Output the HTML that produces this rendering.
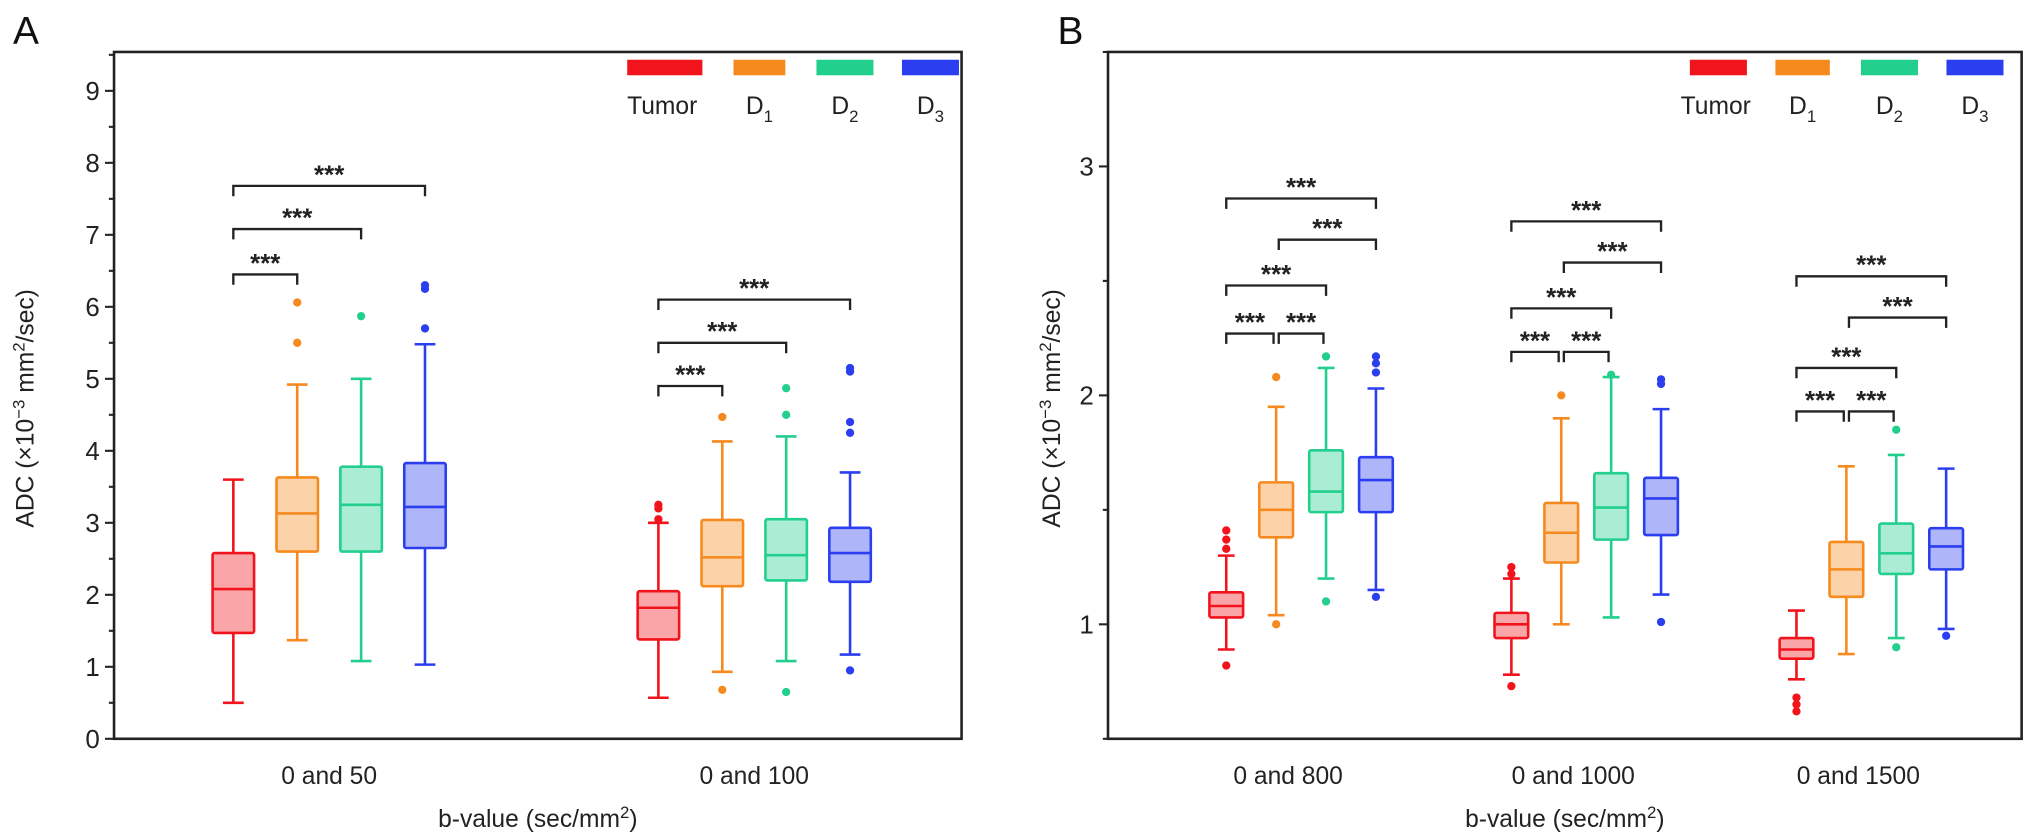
<!DOCTYPE html>
<html><head><meta charset="utf-8">
<style>
html,body{margin:0;padding:0;background:#fff;}
svg{display:block;font-family:"Liberation Sans",Arial,sans-serif;}
</style></head>
<body>
<svg id="fig" width="2032" height="840" viewBox="0 0 1568 648" xmlns="http://www.w3.org/2000/svg"></svg>
<script>
// ===== Panel A data =====
const seriesNames = ["Tumor","D1","D2","D3"];
const colors = ["#f2141c","#f68a1e","#22cf8d","#2b3ff0"];
const catsA = ["0 and 50","0 and 100"];
const ticksA = [0,1,2,3,4,5,6,7,8,9];
// [whiskerLow, q1, median, q3, whiskerHigh]
const statsA50 = [[0.5,1.47,2.08,2.58,3.6],[1.37,2.6,3.13,3.63,4.92],[1.08,2.6,3.25,3.78,5.0],[1.03,2.65,3.22,3.83,5.48]];
const statsA100 = [[0.57,1.38,1.82,2.05,3.0],[0.93,2.12,2.52,3.04,4.13],[1.08,2.2,2.55,3.05,4.2],[1.17,2.18,2.58,2.93,3.7]];
const outA50 = [[],[5.5,6.06],[5.87],[5.7,6.25,6.3]];
const outA100 = [[3.05,3.2,3.25],[0.68,4.47],[0.65,4.5,4.87],[0.95,4.25,4.4,5.1,5.15]];
// brackets: [groupIndex, fromSeries, toSeries, level]
const bracketsA = [[0,0,1,6.45],[0,0,2,7.08],[0,0,3,7.68],[1,0,1,4.9],[1,0,2,5.5],[1,0,3,6.1]];
// ===== Panel B data =====
const catsB = ["0 and 800","0 and 1000","0 and 1500"];
const ticksB = [1,2,3];
const statsB800 = [[0.89,1.03,1.08,1.14,1.3],[1.04,1.38,1.5,1.62,1.95],[1.2,1.49,1.58,1.76,2.12],[1.15,1.49,1.63,1.73,2.03]];
const statsB1000 = [[0.78,0.94,1.0,1.05,1.2],[1.0,1.27,1.4,1.53,1.9],[1.03,1.37,1.51,1.66,2.08],[1.13,1.39,1.55,1.64,1.94]];
const statsB1500 = [[0.76,0.85,0.89,0.94,1.06],[0.87,1.12,1.24,1.36,1.69],[0.94,1.22,1.31,1.44,1.74],[0.98,1.24,1.34,1.42,1.68]];
const outB800 = [[0.82,1.33,1.37,1.41],[1.0,2.08],[1.1,2.17],[1.12,2.1,2.14,2.17]];
const outB1000 = [[0.73,1.22,1.25],[2.0],[2.09],[1.01,2.05,2.07]];
const outB1500 = [[0.62,0.65,0.68],[],[0.9,1.85],[0.95]];
const bracketsB = [[0,0,1,2.27],[0,1,2,2.27],[0,0,2,2.48],[0,1,3,2.68],[0,0,3,2.86],
                   [1,0,1,2.19],[1,1,2,2.19],[1,0,2,2.38],[1,1,3,2.58],[1,0,3,2.76],
                   [2,0,1,1.93],[2,1,2,1.93],[2,0,2,2.12],[2,1,3,2.34],[2,0,3,2.52]];

const NS="http://www.w3.org/2000/svg";
const svg=document.getElementById('fig');
function mk(tag,attrs,parent,text){const e=document.createElementNS(NS,tag);for(const k in attrs)e.setAttribute(k,attrs[k]);if(text!==undefined)e.textContent=text;(parent||svg).appendChild(e);return e;}

function panel(cfg){
  const g=mk('g',{});
  
  
  const {x0,x1,y0,y1,vmin,vmax}=cfg;
  const Y=v=>y1-(v-vmin)/(vmax-vmin)*(y1-y0);
  const gc=i=>cfg.g0+cfg.gw*i;
  const bx=(gi,s)=>gc(gi)+(s-1.5)*cfg.step;
  const fr=mk('rect',{x:x0,y:y0,width:x1-x0,height:y1-y0,fill:'none',stroke:'#222','stroke-width':2},g);
  
  
  for(let v=vmin;v<=vmax+1e-9;v+=0.5){
    const major=cfg.ticks.some(t=>Math.abs(t-v)<1e-9);
    const tk=mk('line',{x1:x0-(major?7:4),x2:x0,y1:Y(v),y2:Y(v),stroke:'#222','stroke-width':1.6},g);
    
    
  }
  cfg.ticks.forEach(t=>{
    const tl=mk('text',{x:x0-11,y:Y(t)+7,'text-anchor':'end','font-size':20,fill:'#222'},g,String(t));
    
    
  });
  const yt=mk('text',{transform:`translate(${cfg.ytx},${(y0+y1)/2+10}) rotate(-90)`,'text-anchor':'middle','font-size':19,fill:'#222'},g);
  
  
  yt.innerHTML='ADC (×10<tspan dy="-7" font-size="13">−3</tspan><tspan dy="7"> mm</tspan><tspan dy="-7" font-size="13">2</tspan><tspan dy="7">/sec)</tspan>';
  cfg.cats.forEach((c,i)=>{
    const t=mk('text',{x:gc(i)+cfg.lshift,y:y1+35,'text-anchor':'middle','font-size':19,fill:'#222'},g,c);
    
    
  });
  const xt=mk('text',{x:(x0+x1)/2,y:y1+68,'text-anchor':'middle','font-size':19,fill:'#222'},g);
  
  
  xt.innerHTML='b-value (sec/mm<tspan dy="-7" font-size="13">2</tspan><tspan dy="7">)</tspan>';
  const bw=cfg.bw;
  cfg.stats.forEach((grp,gi)=>{
    grp.forEach((st,s)=>{
      const cx=bx(gi,s),col=colors[s];
      const bg=mk('g',{},g);
      
      
      const [lo,q1,md,q3,hi]=st;
      mk('line',{x1:cx,x2:cx,y1:Y(lo),y2:Y(q1),stroke:col,'stroke-width':2},bg);
      mk('line',{x1:cx,x2:cx,y1:Y(q3),y2:Y(hi),stroke:col,'stroke-width':2},bg);
      mk('line',{x1:cx-bw*0.25,x2:cx+bw*0.25,y1:Y(lo),y2:Y(lo),stroke:col,'stroke-width':2},bg);
      mk('line',{x1:cx-bw*0.25,x2:cx+bw*0.25,y1:Y(hi),y2:Y(hi),stroke:col,'stroke-width':2},bg);
      mk('rect',{x:cx-bw/2,y:Y(q3),width:bw,height:Y(q1)-Y(q3),fill:col,'fill-opacity':0.38,stroke:col,'stroke-width':2,rx:1.5},bg);
      mk('line',{x1:cx-bw/2,x2:cx+bw/2,y1:Y(md),y2:Y(md),stroke:col,'stroke-width':2},bg);
      cfg.outs[gi][s].forEach(v=>{
        const o=mk('circle',{cx:cx,cy:Y(v),r:3.2,fill:col},bg);
        
        
      });
    });
  });
  cfg.brackets.forEach(b=>{
    const [gi,a,c,lv]=b;
    const xa=bx(gi,a)+(a>0?2:0),xc=bx(gi,c)-(c-a===1&&c<3&&cfg.inset?2:0),y=Y(lv);
    const bg=mk('g',{},g);
    
    
    mk('path',{d:`M${xa} ${y+8}V${y}H${xc}V${y+8}`,fill:'none',stroke:'#222','stroke-width':1.8},bg);
    mk('text',{x:(xa+xc)/2,y:y-2,'text-anchor':'middle','font-size':20,'font-weight':'bold',fill:'#222'},bg,'***');
  });
  cfg.leg.forEach((lx,i)=>{
    const lg=mk('g',{},g);
    
    
    mk('rect',{x:lx[0],y:46,width:lx[1]-lx[0],height:12,fill:colors[i]},lg);
    const t=mk('text',{x:(lx[0]+lx[1])/2+(i===0?-2:0),y:88,'text-anchor':'middle','font-size':19,fill:'#222'},lg);
    if(i===0)t.textContent='Tumor';
    else t.innerHTML='D<tspan dy="6" font-size="13">'+i+'</tspan>';
  });
}

panel({name:'panel-a',x0:88,x1:742,y0:40,y1:570,vmin:0,vmax:9.54,ticks:ticksA,ytx:26,cats:catsA,g0:254,gw:328,lshift:0,step:49.3,bw:32,
  stats:[statsA50,statsA100],outs:[outA50,outA100],brackets:bracketsA,
  leg:[[484,542],[566,606],[630,674],[696,740]]});
panel({name:'panel-b',x0:855,x1:1560,y0:40,y1:570,vmin:0.5,vmax:3.5,ticks:ticksB,ytx:818,cats:catsB,g0:1004,gw:220,lshift:-10,step:38.5,bw:26,inset:true,
  stats:[statsB800,statsB1000,statsB1500],outs:[outB800,outB1000,outB1500],brackets:bracketsB,
  leg:[[1304,1348],[1370,1412],[1436,1480],[1502,1546]]});

const la=mk('text',{x:10,y:34,'font-size':30,fill:'#111'},svg,'A');


const lb=mk('text',{x:816,y:34,'font-size':30,fill:'#111'},svg,'B');


</script>
</body></html>
